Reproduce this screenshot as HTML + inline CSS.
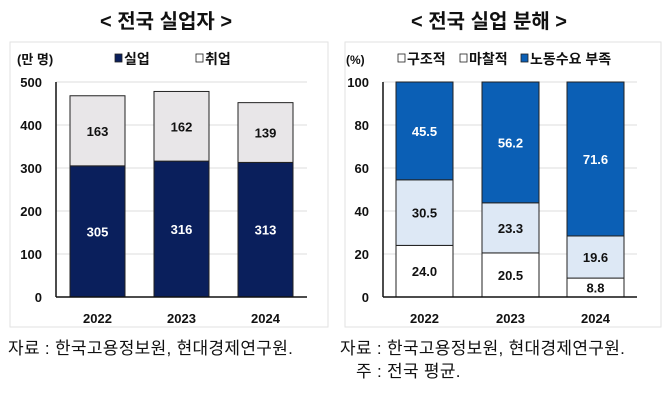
<!DOCTYPE html>
<html><head><meta charset="utf-8"><style>
body{margin:0;width:670px;height:411px;background:#fff;font-family:"Liberation Sans","Noto Sans CJK KR",sans-serif;overflow:hidden;position:relative}
.t{position:absolute;font-weight:bold;font-size:20px;color:#111;white-space:nowrap}
.f{position:absolute;font-size:17px;letter-spacing:0.3px;color:#111;white-space:nowrap}
svg text{font-family:"Liberation Sans","Noto Sans CJK KR",sans-serif}
</style></head><body>
<div class="t" style="left:100px;top:5px">&lt; 전국 실업자 &gt;</div>
<div class="t" style="left:411px;top:5px">&lt; 전국 실업 분해 &gt;</div>
<svg id="c" width="670" height="411" style="position:absolute;left:0;top:0"></svg>
<div class="f" style="left:8px;top:334px">자료 : 한국고용정보원, 현대경제연구원.</div>
<div class="f" style="left:340px;top:334px">자료 : 한국고용정보원, 현대경제연구원.</div>
<div class="f" style="left:356px;top:357px">주 : 전국 평균.</div>
<script>
const years=["2022","2023","2024"];
const unemp=[305,316,313];
const emp=[163,162,139];
const leftTicks=[0,100,200,300,400,500];
const structural=[24.0,20.5,8.8];
const frictional=[30.5,23.3,19.6];
const demand=[45.5,56.2,71.6];
const rightTicks=[0,20,40,60,80,100];
const svg=document.getElementById('c');const NS="http://www.w3.org/2000/svg";
function el(t,a,txt){const e=document.createElementNS(NS,t);for(const k in a)e.setAttribute(k,a[k]);if(txt!==undefined)e.textContent=txt;svg.appendChild(e);return e;}
let p=el('rect',{x:10,y:42,width:318,height:285,fill:'#fff',stroke:'#e2e2e2'});

p=el('rect',{x:345,y:42,width:316,height:285,fill:'#fff',stroke:'#e2e2e2'});

function chart(o){
 const y=v=>o.y0-(v-0)/o.max*(o.y0-o.y1);
 o.ticks.forEach(t=>{
  if(t>0){const g=el('line',{x1:o.ax,x2:o.gx,y1:y(t),y2:y(t),stroke:'#dcdcdc'});}
  const l=el('text',{x:o.ax-14,y:y(t)+5,'text-anchor':'end','font-size':13,'font-weight':'bold',fill:'#111'},t);
  
 });
 years.forEach((yr,i)=>{
  const x=o.bx[i];let base=0;
  o.series.forEach((s,j)=>{
   const v=s.vals[i];const r=el('rect',{x:x,y:y(base+v),width:o.bw,height:y(base)-y(base+v),fill:s.fill,stroke:'#222','stroke-width':1});
   
   const lt=el('text',{x:x+o.bw/2,y:(y(base)+y(base+v))/2+5,'text-anchor':'middle','font-size':13,'font-weight':'bold',fill:s.tc},o.fmt(v));
   
   base+=v;
  });
  const xl=el('text',{x:x+o.bw/2,y:o.y0+26,'text-anchor':'middle','font-size':13,'font-weight':'bold',fill:'#111'},yr);
  
 });
 let a=el('line',{x1:o.ax,x2:o.ax,y1:o.y1,y2:o.y0,stroke:'#111','stroke-width':1.5});
 a=el('line',{x1:o.ax,x2:o.gx,y1:o.y0,y2:o.y0,stroke:'#111','stroke-width':1.5});
}
chart({y0:297,y1:82,max:500,ax:56,gx:307,bx:[70,154,238],bw:55,ticks:leftTicks,fmt:v=>String(v),
 series:[{name:'unemployed',vals:unemp,fill:'#0a1f5c',tc:'#fff'},{name:'employed',vals:emp,fill:'#e8e6e8',tc:'#111'}]});
chart({y0:297,y1:82,max:100,ax:383,gx:637,bx:[396,482,567],bw:57,ticks:rightTicks,fmt:v=>v.toFixed(1),
 series:[{name:'structural',vals:structural,fill:'#fff',tc:'#111'},{name:'frictional',vals:frictional,fill:'#dde8f5',tc:'#111'},{name:'demand-shortage',vals:demand,fill:'#0b5fb5',tc:'#fff'}]});
function txt(x,yy,s,n,fs,w){const t=el('text',{x:x,y:yy,'font-size':fs||13,'font-weight':w||'bold',fill:'#111'},s);}
txt(17,64,'(만 명)','y-axis-unit');
txt(346,64,'(%)','y-axis-unit-right',12);
function leg(x,fill,label,n){const r=el('rect',{x:x,y:54,width:7,height:8,fill:fill,stroke:'#222','stroke-width':0.8});txt(x+9,64,label,n,14);}
leg(115,'#0a1f5c','실업','legend-unemployed');
leg(196,'#fff','취업','legend-employed');
leg(398,'#fff','구조적','legend-structural');
leg(460,'#fff','마찰적','legend-frictional');
leg(521,'#0b5fb5','노동수요 부족','legend-demand');
</script>
</body></html>
